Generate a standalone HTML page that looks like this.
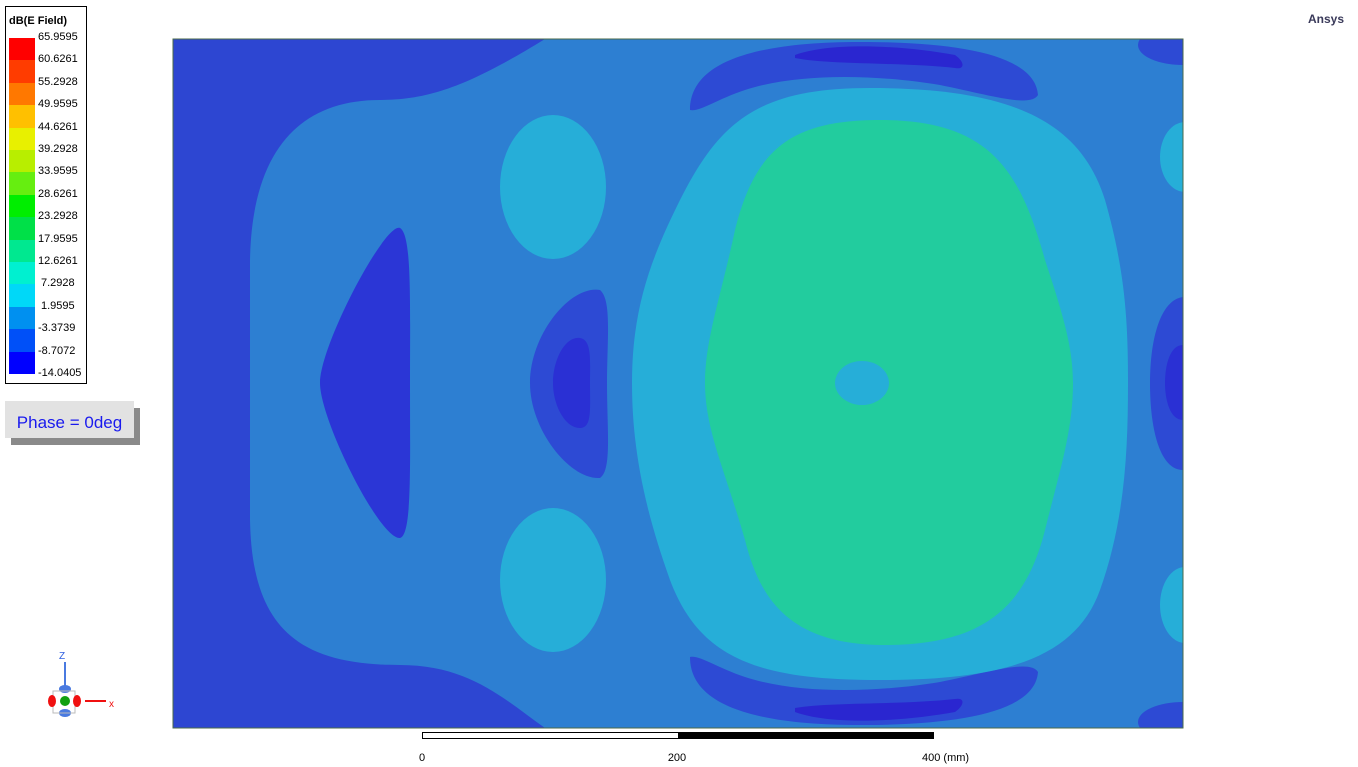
<!DOCTYPE html>
<html><head><meta charset="utf-8"><style>
body{margin:0;width:1358px;height:767px;background:#fff;overflow:hidden;font-family:"Liberation Sans",Arial,sans-serif;position:relative}
.abs{position:absolute}
</style></head><body>
<div class="abs" style="left:1308px;top:12px;font-size:12px;font-weight:bold;color:#3a3a5a">Ansys</div>

<svg class="abs" style="left:0;top:0" width="1358" height="767">
  <g>
  <clipPath id="cp"><rect x="173" y="39" width="1010" height="689"/></clipPath>
  <g clip-path="url(#cp)">
    <rect x="173" y="39" width="1010" height="689" fill="#2d46d2"/>
    <path fill="#2d7fd2" d="M545,39 C470,85 430,100 380,100 C300,100 252,150 250,260 L250,520 C252,630 300,665 400,665 C470,665 505,700 545,728 L1183,728 L1183,39 Z"/>
    <path fill="#2b36d6" d="M400,228 C412,235 410,300 410,383 C410,470 412,535 400,538 C380,540 320,420 320,383 C320,345 385,222 400,228 Z"/>
    <path fill="#2d4ad4" d="M690,110 C690,60 760,42 860,42 C960,42 1035,55 1038,95 C1030,108 990,95 940,85 C880,75 800,72 745,90 C715,100 700,112 690,110 Z"/>
    <path fill="#2a26d0" d="M795,55 C830,42 900,45 955,55 C965,62 965,70 955,68 C900,62 830,65 795,58 Z"/>
    <path fill="#2d4ad4" d="M690,657 C700,655 715,667 745,677 C800,695 880,692 940,682 C990,672 1030,659 1038,672 C1035,712 960,725 860,725 C760,725 690,707 690,657 Z"/>
    <path fill="#2a26d0" d="M795,708 C830,702 900,705 955,699 C965,697 965,705 955,712 C900,722 830,725 795,712 Z"/>
    <ellipse cx="1183" cy="45" rx="45" ry="20" fill="#2d4ad4"/>
    <ellipse cx="1183" cy="722" rx="45" ry="20" fill="#2d4ad4"/>
    <path fill="#2d4ad4" d="M600,290 C612,300 607,340 607,383 C607,430 612,470 600,478 C570,480 530,430 530,383 C530,335 570,285 600,290 Z"/>
    <path fill="#2a30d4" d="M580,338 C592,340 590,360 590,383 C590,410 592,428 580,428 C565,428 553,405 553,383 C553,360 565,336 580,338 Z"/>
    <path fill="#2d4ad4" d="M1183,297 C1160,300 1150,340 1150,383 C1150,430 1160,470 1183,470 Z"/>
    <path fill="#2a30d4" d="M1183,345 C1170,345 1165,365 1165,383 C1165,400 1170,420 1183,420 Z"/>
    <ellipse cx="553" cy="187" rx="53" ry="72" fill="#26aed8"/>
    <ellipse cx="553" cy="580" rx="53" ry="72" fill="#26aed8"/>
    <ellipse cx="1185" cy="157" rx="25" ry="35" fill="#26aed8"/>
    <ellipse cx="1185" cy="605" rx="25" ry="38" fill="#26aed8"/>
    <path fill="#26aed8" d="M870,88 C1010,88 1080,120 1105,200 C1125,270 1128,320 1128,383 C1128,450 1125,520 1100,590 C1075,660 1000,680 880,680 C760,680 700,660 670,580 C645,510 632,450 632,383 C632,310 650,260 680,200 C720,120 760,88 870,88 Z"/>
    <path fill="#22cc9e" d="M880,120 C990,120 1020,170 1045,260 C1065,320 1073,350 1073,383 C1073,430 1060,470 1045,530 C1025,610 980,645 885,645 C790,645 760,600 745,540 C725,470 705,430 705,383 C705,340 720,300 735,230 C755,150 790,120 880,120 Z"/>
    <ellipse cx="862" cy="383" rx="27" ry="22" fill="#26aed8"/>
  </g>
  <rect x="173" y="39" width="1010" height="689" fill="none" stroke="#4a6a4a" stroke-width="1"/>
  </g>
  <g>
    <rect x="422.5" y="732.5" width="256" height="6" fill="#fff" stroke="#000"/>
    <rect x="678" y="732" width="256" height="7" fill="#000"/>
    <text x="422" y="761" font-size="11" text-anchor="middle" font-family="Liberation Sans">0</text>
    <text x="677" y="761" font-size="11" text-anchor="middle" font-family="Liberation Sans">200</text>
    <text x="922" y="761" font-size="11" font-family="Liberation Sans">400 (mm)</text>
  </g>
  <g>
    <text x="59" y="659" font-size="10" fill="#3060e0" font-family="Liberation Sans">Z</text>
    <line x1="65" y1="662" x2="65" y2="688" stroke="#4a7ae0" stroke-width="2"/>
    <ellipse cx="65" cy="689" rx="6" ry="4" fill="#4a7ae0"/>
    <ellipse cx="65" cy="713" rx="6" ry="4" fill="#4a7ae0"/>
    <rect x="53" y="691" width="22" height="22" fill="none" stroke="#bbb"/>
    <ellipse cx="52" cy="701" rx="4" ry="6" fill="#f01010"/>
    <ellipse cx="77" cy="701" rx="4" ry="6" fill="#f01010"/>
    <circle cx="65" cy="701" r="5" fill="#10a010"/>
    <line x1="85" y1="701" x2="106" y2="701" stroke="#f01010" stroke-width="2"/>
    <text x="109" y="707" font-size="10" fill="#f01010" font-family="Liberation Sans">x</text>
  </g>
</svg>

<div class="abs" style="left:5px;top:6px;width:80px;height:376px;border:1px solid #000;background:#fff">
  <div style="position:absolute;left:3px;top:8px;font-size:11px;font-weight:bold">dB(E Field)</div>
  <div id="leg"></div>
</div>

<div class="abs" style="left:11px;top:408px;width:129px;height:37px;background:#8a8a8a"></div>
<div class="abs" style="left:5px;top:401px;width:129px;height:37px;background:#e2e2e2;color:#1a1aee;font-size:17px;line-height:44px;text-align:center">Phase = 0deg</div>

<script>
const legendLabels = ["65.9595","60.6261","55.2928","49.9595","44.6261","39.2928","33.9595","28.6261","23.2928","17.9595","12.6261","7.2928","1.9595","-3.3739","-8.7072","-14.0405"];
const legendColors = ["#ff0000","#ff3c00","#ff7800","#ffc000","#e8f000","#b8ee00","#66ee10","#00ee00","#00e048","#00e890","#00f0d0","#00d8f8","#0090f0","#0050f8","#0000ff"];
const leg = document.getElementById('leg');
const top0 = 31, h = 22.4;
legendColors.forEach((c, i) => {
  const d = document.createElement('div');
  
  
  d.style.cssText = `position:absolute;left:3px;top:${top0 + i*h}px;width:26px;height:${h+0.5}px;background:${c}`;
  leg.appendChild(d);
});
legendLabels.forEach((t, i) => {
  const d = document.createElement('div');
  
  
  d.textContent = t;
  d.style.cssText = `position:absolute;left:${t.length<7?35:32}px;top:${top0 + i*h - 7}px;font-size:11px;line-height:13px;color:#000`;
  leg.appendChild(d);
});
</script>
</body></html>
